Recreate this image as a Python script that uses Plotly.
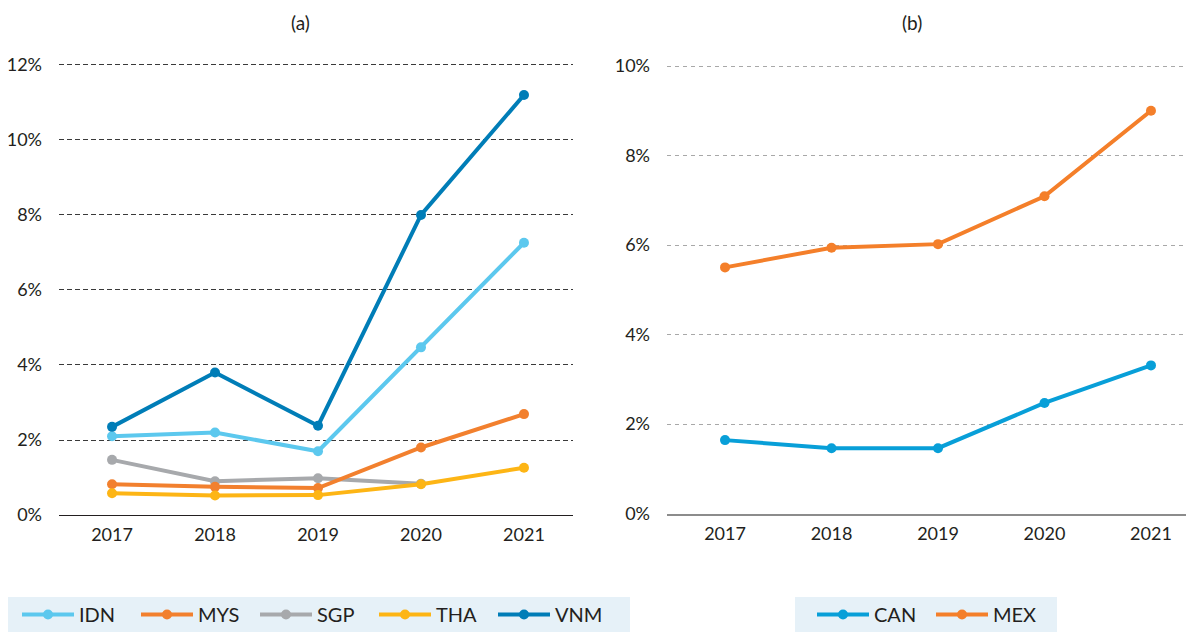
import plotly.graph_objects as go

# page body has an 8px margin: figure coordinates are offset from screen coordinates
OFF = 8
FW, FH = 1186, 624

years = ["2017", "2018", "2019", "2020", "2021"]
# panel (a)
idn = [2.10, 2.20, 1.70, 4.47, 7.26]
mys = [0.82, 0.75, 0.72, 1.80, 2.69]
sgp = [1.47, 0.90, 0.98, 0.83, None]
tha = [0.58, 0.52, 0.53, 0.82, 1.26]
vnm = [2.35, 3.80, 2.38, 8.00, 11.20]
# panel (b)
can = [1.64, 1.46, 1.46, 2.47, 3.31]
mex = [5.50, 5.94, 6.02, 7.09, 9.00]

yticks_a = [0, 2, 4, 6, 8, 10, 12]
yticks_b = [0, 2, 4, 6, 8, 10]

FONT = "Lato"
TXT = "#231F20"

fig = go.Figure()

left_series = [
    # name, values, colour, legend rank (draw order is list order)
    ("SGP", sgp, "#A7A9AC", 3),
    ("MYS", mys, "#F2802E", 2),
    ("THA", tha, "#FDB515", 4),
    ("IDN", idn, "#5CC8EE", 1),
    ("VNM", vnm, "#007DB7", 5),
]
for name, vals, col, rank in left_series:
    fig.add_trace(go.Scatter(
        x=years, y=vals, name=name, mode="lines+markers",
        line=dict(color=col, width=4), marker=dict(color=col, size=10),
        xaxis="x", yaxis="y", legend="legend", legendrank=rank,
    ))

right_series = [
    ("CAN", can, "#089FD8", 1),
    ("MEX", mex, "#F47F2A", 2),
]
for name, vals, col, rank in right_series:
    fig.add_trace(go.Scatter(
        x=years, y=vals, name=name, mode="lines+markers",
        line=dict(color=col, width=4), marker=dict(color=col, size=10),
        xaxis="x2", yaxis="y2", legend="legend2", legendrank=rank,
    ))

tickfont = dict(family=FONT, size=18, color=TXT)

def px_x(p):
    return (p - OFF) / FW

def px_y(p):
    return (FH - (p - OFF)) / FH

legend_common = dict(
    orientation="h", xanchor="left", y=px_y(614.5), yanchor="middle",
    bgcolor="rgba(0,0,0,0)", font=dict(family=FONT, size=20, color=TXT),
    entrywidth=52, entrywidthmode="pixels", itemwidth=52, borderwidth=0,
)

fig.update_layout(
    width=FW, height=FH,
    margin=dict(l=0, r=0, t=0, b=0, pad=0, autoexpand=False),
    paper_bgcolor="white", plot_bgcolor="white",
    font=dict(family=FONT, color=TXT),
    xaxis=dict(
        domain=[px_x(59), px_x(573)], type="category",
        range=[-0.515, 4.476], showgrid=False, zeroline=False,
        showline=True, linecolor="#231F20", linewidth=1,
        ticks="", tickfont=tickfont, ticklabelstandoff=3, anchor="y",
    ),
    yaxis=dict(
        domain=[px_y(515), px_y(63.1)], range=[0, 12.05],
        tickmode="array", tickvals=yticks_a, ticktext=[f"{v}%" for v in yticks_a],
        showgrid=True, gridcolor="#3A3A3A", gridwidth=1, griddash="5px,3px",
        zeroline=False, showline=False, ticks="", tickfont=tickfont,
        ticklabelstandoff=16, anchor="x",
    ),
    xaxis2=dict(
        domain=[px_x(667), 1.0], type="category",
        range=[-0.545, 4.404], showgrid=False, zeroline=False,
        showline=True, linecolor="#8C8C8C", linewidth=2,
        ticks="", tickfont=tickfont, ticklabelstandoff=3, anchor="y2",
    ),
    yaxis2=dict(
        domain=[px_y(513.5), px_y(63.8)], range=[0, 10.05],
        tickmode="array", tickvals=yticks_b, ticktext=[f"{v}%" for v in yticks_b],
        showgrid=True, gridcolor="#A8A8A8", gridwidth=1, griddash="4px,4px",
        zeroline=False, showline=False, ticks="", tickfont=tickfont,
        ticklabelstandoff=16, anchor="x2",
    ),
    legend=dict(x=px_x(17), **legend_common),
    legend2=dict(x=px_x(812), **legend_common),
    shapes=[
        dict(type="rect", xref="paper", yref="paper",
             x0=px_x(8), x1=px_x(630), y0=px_y(640), y1=px_y(597),
             fillcolor="#E6F1F8", line=dict(width=0), layer="below"),
        dict(type="rect", xref="paper", yref="paper",
             x0=px_x(795), x1=px_x(1057), y0=px_y(640), y1=px_y(597),
             fillcolor="#E6F1F8", line=dict(width=0), layer="below"),
    ],
    annotations=[
        dict(text="(a)", x=px_x(300), y=px_y(22), xref="paper", yref="paper",
             showarrow=False, xanchor="center", yanchor="middle",
             font=dict(family=FONT, size=19, color=TXT)),
        dict(text="(b)", x=px_x(912), y=px_y(22), xref="paper", yref="paper",
             showarrow=False, xanchor="center", yanchor="middle",
             font=dict(family=FONT, size=19, color=TXT)),
    ],
    showlegend=True,
)

fig.write_html("out.html")
